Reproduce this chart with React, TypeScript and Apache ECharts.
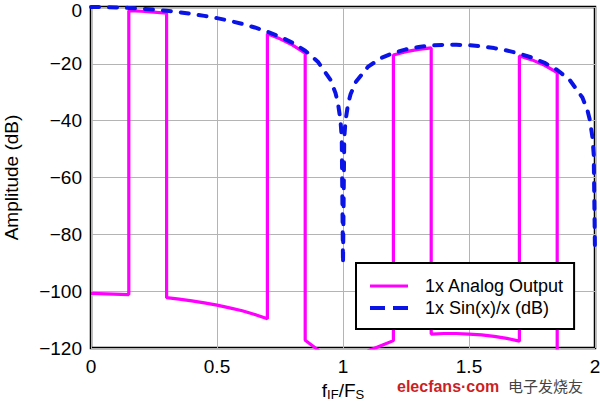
import React, { useEffect, useRef } from "react";
import * as echarts from "echarts";

// Sin(x)/x envelope (dB)
const sincFreq = [
  0, 0.05, 0.1, 0.15, 0.2, 0.25, 0.3, 0.35, 0.4, 0.45, 0.5, 0.55, 0.6, 0.65, 0.7, 0.75, 0.8, 0.85, 0.9,
  0.95, 0.97, 0.98, 0.99, 0.995, 1.0, 1.005, 1.01, 1.02, 1.03, 1.05, 1.1, 1.15, 1.2, 1.25, 1.3, 1.35,
  1.4, 1.45, 1.5, 1.55, 1.6, 1.65, 1.7, 1.75, 1.8, 1.85, 1.9, 1.95, 1.97, 1.98, 1.99, 1.995, 2.0,
];
const sincDb = [
  0, -0.04, -0.14, -0.32, -0.58, -0.91, -1.33, -1.83, -2.42, -3.12, -3.92, -4.86, -5.94, -7.2, -8.69,
  -10.46, -12.62, -15.39, -19.23, -25.61, -30.21, -33.81, -39.91, -45.98, -90.5, -46.06, -40.09, -34.16,
  -30.73, -26.48, -20.97, -18.02, -16.14, -14.89, -14.06, -13.55, -13.3, -13.28, -13.46, -13.86, -14.46,
  -15.3, -16.39, -17.81, -19.66, -22.15, -25.72, -31.86, -36.36, -39.92, -45.98, -52.02, -87,
];

// 1x analog output (dB)
const analogFreq = [
  0, 0.15, 0.15, 0.2, 0.25, 0.3, 0.3, 0.35, 0.4, 0.45, 0.5, 0.55, 0.6, 0.65, 0.7, 0.7, 0.75, 0.8, 0.85,
  0.85, 0.9, 0.95, 1.0, 1.05, 1.1, 1.15, 1.2, 1.2, 1.25, 1.3, 1.35, 1.35, 1.4, 1.45, 1.5, 1.55, 1.6,
  1.65, 1.7, 1.7, 1.75, 1.8, 1.85, 1.85, 1.9, 2.0,
];
const analogDb = [
  -100.8, -101.2, -1.3, -1.5, -1.8, -2.2, -102.3, -102.8, -103.4, -104.1, -104.9, -105.9, -106.9,
  -108.2, -109.7, -9.4, -11.2, -13.4, -16.2, -117.3, -120.6, -127, -150, -127.5, -121, -119.2, -117.4,
  -16.9, -15.7, -14.9, -14.4, -115.1, -114.9, -114.9, -115.1, -115.4, -115.9, -116.6, -117.6, -17.2,
  -18.6, -20.5, -23.1, -124, -127, -150,
];

const xTicks = [0, 0.5, 1, 1.5, 2];
const yTicks = [-120, -100, -80, -60, -40, -20, 0];
const seriesNames = ["1x Analog Output", "1x Sin(x)/x (dB)"];

const FONT = "'Liberation Sans', Arial, Helvetica, sans-serif";

export default function App() {
  const ref = useRef<HTMLDivElement>(null);

  useEffect(() => {
    if (!ref.current) return;
    const chart = echarts.init(ref.current, undefined, { renderer: "svg" });
    const analogData = analogFreq.map((f, i) => [f, analogDb[i]]);
    const sincData = sincFreq.map((f, i) => [f, sincDb[i]]);

    chart.setOption({
      animation: false,
      backgroundColor: "#ffffff",
      textStyle: { fontFamily: FONT },
      grid: {
        left: 91,
        right: 5,
        top: 7,
        bottom: 56,
        outerBoundsMode: "none",
        containLabel: false,
        show: true,
        borderColor: "#000000",
        borderWidth: 2.5,
        backgroundColor: "transparent",
      },
      xAxis: {
        type: "value",
        min: xTicks[0],
        max: xTicks[xTicks.length - 1],
        interval: 0.5,
        axisLine: { show: false },
        axisTick: { show: false },
        splitLine: { show: true, lineStyle: { color: "#b4b4b4", width: 1 } },
        axisLabel: { color: "#000", fontSize: 19, fontFamily: FONT, margin: 9 },
        name: "f{sub|IF}/F{sub|S}",
        nameLocation: "middle",
        nameGap: 31,
        nameTextStyle: {
          color: "#000",
          fontSize: 19,
          fontFamily: FONT,
          lineHeight: 20,
          rich: {
            sub: { fontSize: 13, fontFamily: FONT, color: "#000", lineHeight: 20, verticalAlign: "bottom" },
          },
        },
      },
      yAxis: {
        type: "value",
        min: yTicks[0],
        max: yTicks[yTicks.length - 1],
        interval: 20,
        axisLine: { show: false },
        axisTick: { show: false },
        splitLine: { show: true, lineStyle: { color: "#b4b4b4", width: 1 } },
        axisLabel: {
          color: "#000",
          fontSize: 19,
          fontFamily: FONT,
          margin: 9,
          formatter: (v: number) => (v === 0 ? "{top|0}" : "\u2212" + Math.abs(v)),
          rich: {
            top: { fontSize: 19, fontFamily: FONT, color: "#000", lineHeight: 16, padding: [6, 0, 0, 0] },
          },
        },
        name: "Amplitude (dB)",
        nameLocation: "middle",
        nameGap: 70,
        nameTextStyle: { color: "#000", fontSize: 19, fontFamily: FONT },
      },
      legend: {
        data: [
          { name: seriesNames[0], icon: "path://M0,0.4H38V3.6H0Z" },
          { name: seriesNames[1], icon: "path://M0,0H15V4H0Z M23,0H38V4H23Z" },
        ],
        orient: "vertical",
        left: 356,
        top: 263,
        padding: [13, 10, 11, 14],
        itemGap: 2,
        itemWidth: 38,
        itemHeight: 4,
        itemStyle: { borderWidth: 0 },
        backgroundColor: "#ffffff",
        borderColor: "#000000",
        borderWidth: 2,
        textStyle: {
          color: "#000",
          fontSize: 18,
          lineHeight: 20,
          fontFamily: FONT,
          padding: [0, 0, 0, 12],
        },
      },
      series: [
        {
          name: seriesNames[0],
          type: "line",
          data: analogData,
          showSymbol: false,
          symbol: "none",
          clip: true,
          lineStyle: { color: "#ff00ff", width: 3.2 },
          itemStyle: { color: "#ff00ff" },
          z: 2,
        },
        {
          name: seriesNames[1],
          type: "line",
          data: sincData,
          showSymbol: false,
          symbol: "none",
          clip: true,
          lineStyle: { color: "#0a14e6", width: 4, type: [8, 10], cap: "round" },
          itemStyle: { color: "#0a14e6" },
          z: 3,
        },
      ],
      graphic: [
        {
          type: "text",
          left: 397,
          top: 378,
          style: { text: "elecfans·com", fill: "#cc1f24", font: `bold 16px ${FONT}` },
        },
        {
          type: "text",
          left: 508,
          top: 378,
          style: { text: "电子发烧友", fill: "#444444", font: "15px 'Noto Sans CJK SC'" },
        },
      ],
    });

    return () => chart.dispose();
  }, []);

  return (
    <div
      ref={ref}
      style={{ position: "absolute", left: 0, top: 0, width: 600, height: 404 }}
    />
  );
}
